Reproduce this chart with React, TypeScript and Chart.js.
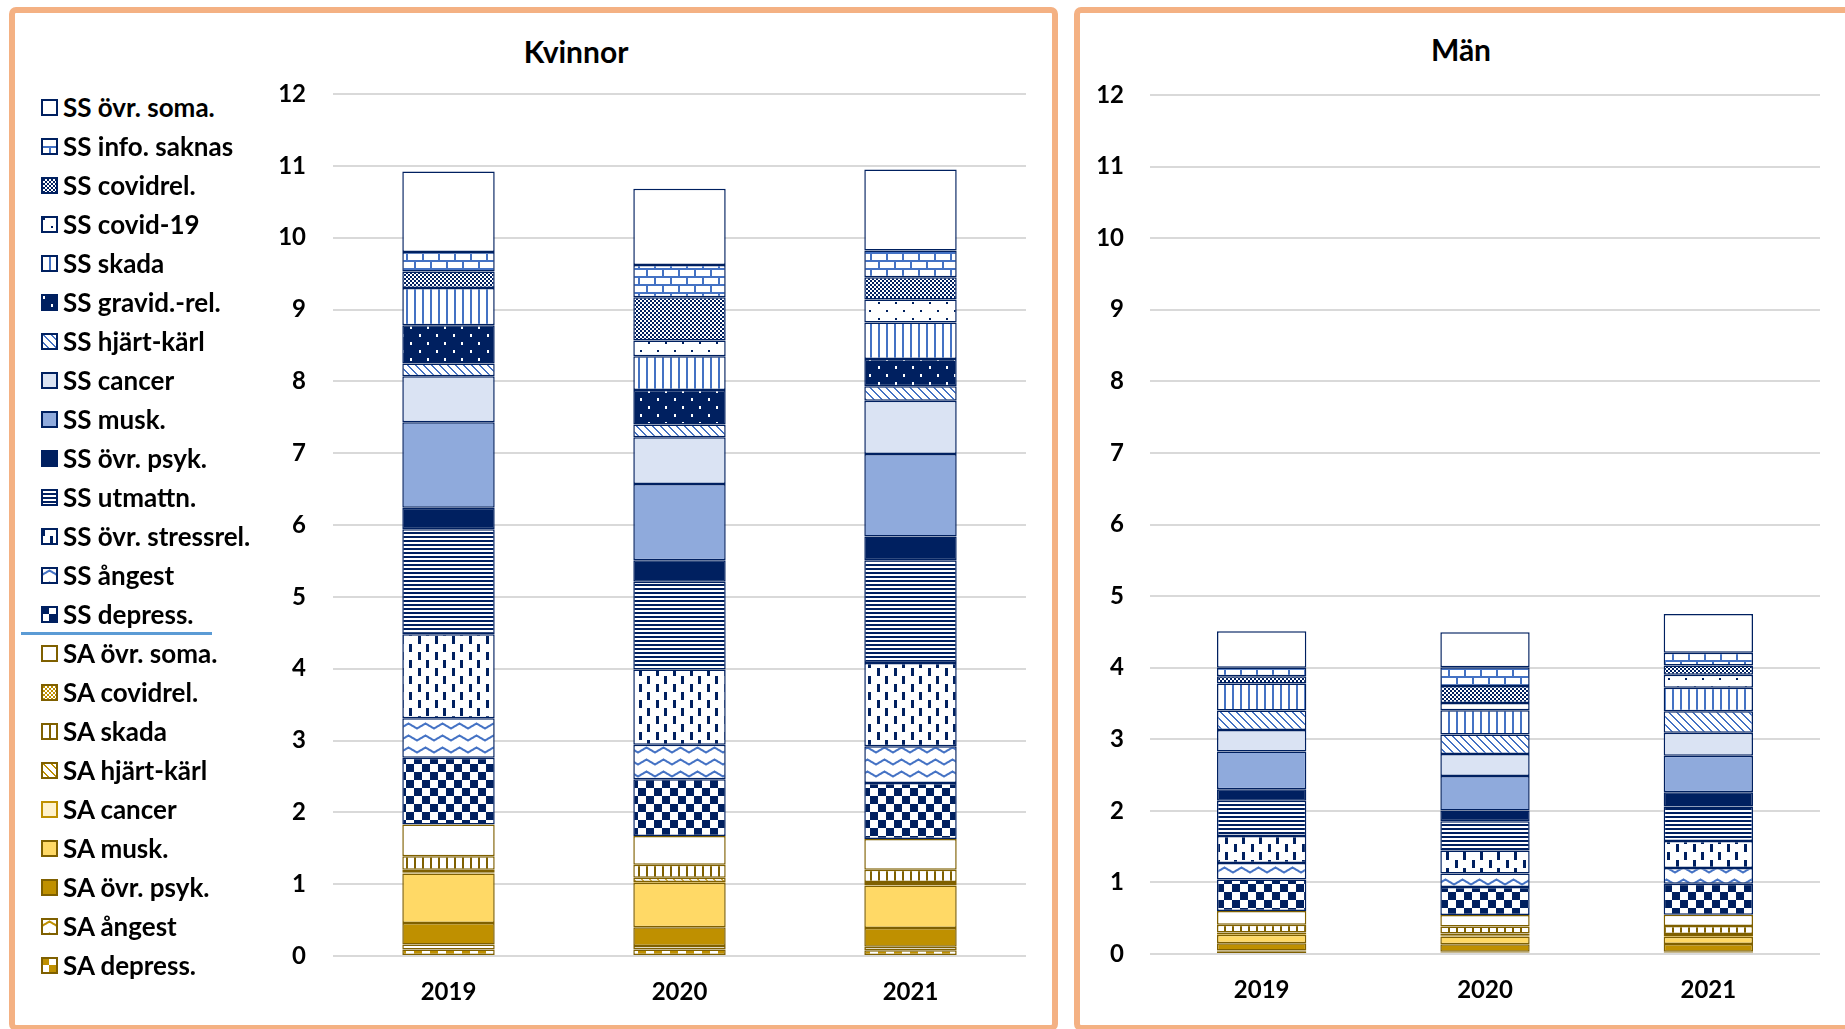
import React, { useEffect, useRef } from 'react';
import { Chart, registerables } from 'chart.js';

Chart.register(...registerables);

// ---------- DATA ----------
const CATEGORIES = ['2019', '2020', '2021'];
const Y_MIN = 0;
const Y_MAX = 12;
const Y_STEP = 1;

// Series in stacking order (bottom -> top)
const SERIES_NAMES = [
  'SA depress.', 'SA ångest', 'SA övr. psyk.', 'SA musk.', 'SA cancer',
  'SA hjärt-kärl', 'SA skada', 'SA covidrel.', 'SA övr. soma.',
  'SS depress.', 'SS ångest', 'SS övr. stressrel.', 'SS utmattn.', 'SS övr. psyk.',
  'SS musk.', 'SS cancer', 'SS hjärt-kärl', 'SS gravid.-rel.', 'SS skada',
  'SS covid-19', 'SS covidrel.', 'SS info. saknas', 'SS övr. soma.',
];

// Kvinnor: one row per series (same order as SERIES_NAMES), values for 2019, 2020, 2021
const KVINNOR_VALUES = [
  [0.09, 0.09, 0.08], // SA depress.
  [0.07, 0.05, 0.05], // SA ångest
  [0.30, 0.26, 0.26], // SA övr. psyk.
  [0.69, 0.62, 0.59], // SA musk.
  [0.01, 0.01, 0.01], // SA cancer
  [0.04, 0.06, 0.04], // SA hjärt-kärl
  [0.19, 0.18, 0.17], // SA skada
  [0.00, 0.00, 0.00], // SA covidrel.
  [0.44, 0.40, 0.43], // SA övr. soma.
  [0.93, 0.79, 0.78], // SS depress.
  [0.55, 0.48, 0.51], // SS ångest
  [1.17, 1.05, 1.16], // SS övr. stressrel.
  [1.46, 1.22, 1.43], // SS utmattn.
  [0.30, 0.30, 0.33], // SS övr. psyk.
  [1.19, 1.06, 1.15], // SS musk.
  [0.64, 0.65, 0.74], // SS cancer
  [0.18, 0.18, 0.20], // SS hjärt-kärl
  [0.53, 0.48, 0.38], // SS gravid.-rel.
  [0.52, 0.47, 0.51], // SS skada
  [0.00, 0.22, 0.32], // SS covid-19
  [0.23, 0.60, 0.31], // SS covidrel.
  [0.27, 0.45, 0.37], // SS info. saknas
  [1.12, 1.06, 1.13], // SS övr. soma.
];

// Män
const MAN_VALUES = [
  [0.03, 0.02, 0.02], // SA depress.
  [0.02, 0.01, 0.01], // SA ångest
  [0.10, 0.105, 0.11], // SA övr. psyk.
  [0.12, 0.11, 0.10], // SA musk.
  [0.01, 0.01, 0.01], // SA cancer
  [0.02, 0.03, 0.03], // SA hjärt-kärl
  [0.11, 0.10, 0.11], // SA skada
  [0.00, 0.00, 0.00], // SA covidrel.
  [0.19, 0.16, 0.16], // SA övr. soma.
  [0.44, 0.39, 0.43], // SS depress.
  [0.23, 0.19, 0.22], // SS ångest
  [0.38, 0.32, 0.38], // SS övr. stressrel.
  [0.49, 0.41, 0.48], // SS utmattn.
  [0.16, 0.15, 0.20], // SS övr. psyk.
  [0.53, 0.48, 0.51], // SS musk.
  [0.30, 0.31, 0.32], // SS cancer
  [0.27, 0.27, 0.30], // SS hjärt-kärl
  [0.00, 0.00, 0.00], // SS gravid.-rel.
  [0.38, 0.34, 0.33], // SS skada
  [0.00, 0.10, 0.18], // SS covid-19
  [0.10, 0.24, 0.13], // SS covidrel.
  [0.12, 0.26, 0.18], // SS info. saknas
  [0.51, 0.49, 0.54], // SS övr. soma.
];

// ---------- STYLES ----------
const NAVY = '#002060';
const BLUE = '#4472C4';
const BROWN = '#7F6000';
const GOLD = '#BF9000';
const WHITE = '#FFFFFF';
const FONT = 'Lato, "Open Sans", sans-serif';

type Kind = 'solid' | 'checker' | 'wave' | 'vdash' | 'hlines' | 'diag' | 'dots' | 'vlines' | 'sparse' | 'fine' | 'brick';
interface Style { kind: Kind; fg: string; border: string; }

const SERIES_STYLE: Style[] = [
  { kind: 'checker', fg: GOLD, border: BROWN },
  { kind: 'wave', fg: GOLD, border: BROWN },
  { kind: 'solid', fg: GOLD, border: BROWN },
  { kind: 'solid', fg: '#FFD966', border: BROWN },
  { kind: 'solid', fg: '#FFF2CC', border: GOLD },
  { kind: 'diag', fg: GOLD, border: BROWN },
  { kind: 'vlines', fg: BROWN, border: BROWN },
  { kind: 'fine', fg: GOLD, border: BROWN },
  { kind: 'solid', fg: WHITE, border: BROWN },
  { kind: 'checker', fg: NAVY, border: NAVY },
  { kind: 'wave', fg: BLUE, border: NAVY },
  { kind: 'vdash', fg: NAVY, border: NAVY },
  { kind: 'hlines', fg: NAVY, border: NAVY },
  { kind: 'solid', fg: NAVY, border: NAVY },
  { kind: 'solid', fg: '#8FAADC', border: NAVY },
  { kind: 'solid', fg: '#DAE3F3', border: NAVY },
  { kind: 'diag', fg: BLUE, border: NAVY },
  { kind: 'dots', fg: NAVY, border: NAVY },
  { kind: 'vlines', fg: BLUE, border: NAVY },
  { kind: 'sparse', fg: NAVY, border: NAVY },
  { kind: 'fine', fg: NAVY, border: NAVY },
  { kind: 'brick', fg: BLUE, border: NAVY },
  { kind: 'solid', fg: WHITE, border: NAVY },
];

function makeTile(st: Style): HTMLCanvasElement {
  const c = document.createElement('canvas');
  let w = 8, h = 8;
  switch (st.kind) {
    case 'checker': w = 16; h = 16; break;
    case 'wave': w = 17; h = 12; break;
    case 'vdash': w = 17; h = 16; break;
    case 'hlines': w = 4; h = 4; break;
    case 'diag': w = 8; h = 8; break;
    case 'dots': w = 17; h = 16; break;
    case 'vlines': w = 8; h = 8; break;
    case 'sparse': w = 17; h = 16; break;
    case 'fine': w = 4; h = 4; break;
    case 'brick': w = 16; h = 16; break;
    default: w = 4; h = 4;
  }
  c.width = w; c.height = h;
  const g = c.getContext('2d')!;
  g.fillStyle = st.kind === 'dots' ? st.fg : WHITE;
  g.fillRect(0, 0, w, h);
  g.fillStyle = st.fg;
  switch (st.kind) {
    case 'solid': g.fillRect(0, 0, w, h); break;
    case 'checker': g.fillRect(0, 0, 8, 8); g.fillRect(8, 8, 8, 8); break;
    case 'wave': {
      g.strokeStyle = st.fg; g.lineWidth = 2; g.beginPath();
      for (let x = -1; x <= w + 1; x += 0.5) {
        const t = ((x % w) + w) % w / w;
        const y = 3.5 + 5 * Math.abs(2 * t - 1);
        if (x === -1) g.moveTo(x, y); else g.lineTo(x, y);
      }
      g.stroke();
      break;
    }
    case 'vdash': g.fillRect(1, 0, 3, 8); g.fillRect(9, 8, 3, 8); break;
    case 'hlines': g.fillRect(0, 0, 4, 2); break;
    case 'diag': for (let i = 0; i < 8; i++) { g.fillRect(i, i, 2, 1); if (i === 7) g.fillRect(0, 7, 1, 1); } break;
    case 'dots': g.fillStyle = WHITE; g.fillRect(2, 2, 2, 3); g.fillRect(10, 10, 2, 3); break;
    case 'vlines': g.fillRect(0, 0, 2, 8); break;
    case 'sparse': g.fillRect(2, 2, 2, 2); g.fillRect(10, 10, 2, 2); break;
    case 'fine': g.fillRect(0, 0, 2, 2); g.fillRect(2, 2, 2, 2); break;
    case 'brick':
      g.fillRect(0, 0, 16, 2); g.fillRect(0, 8, 16, 2);
      g.fillRect(0, 2, 2, 6); g.fillRect(8, 10, 2, 6);
      break;
  }
  return c;
}

function fillFor(ctx: CanvasRenderingContext2D, st: Style): string | CanvasPattern {
  if (st.kind === 'solid') return st.fg;
  return ctx.createPattern(makeTile(st), 'repeat') as CanvasPattern;
}

interface ChartProps {
  values: number[][];
  left: number; top: number; width: number; height: number;
  yAxisWidth: number; xAxisHeight: number; padTop: number; padRight: number;
  yLabelPad: number; xLabelPad: number;
}

function StackedChart(p: ChartProps) {
  const ref = useRef<HTMLCanvasElement>(null);
  useEffect(() => {
    const canvas = ref.current!;
    const ctx = canvas.getContext('2d')!;
    const chart = new Chart(ctx, {
      type: 'bar',
      data: {
        labels: CATEGORIES,
        datasets: SERIES_NAMES.map((name, i) => ({
          label: name,
          data: p.values[i],
          backgroundColor: fillFor(ctx, SERIES_STYLE[i]),
          borderColor: SERIES_STYLE[i].border,
          borderWidth: 1.5,
          borderSkipped: false,
          barPercentage: 0.8,
          categoryPercentage: 0.5,
        })),
      },
      options: {
        responsive: false,
        animation: false,
        devicePixelRatio: 1,
        layout: { padding: { top: p.padTop, right: p.padRight, left: 0, bottom: 0 } },
        plugins: { legend: { display: false }, title: { display: false }, tooltip: { enabled: false } },
        scales: {
          x: {
            stacked: true,
            grid: { display: false, drawTicks: false },
            border: { display: false },
            ticks: { color: '#000', padding: p.xLabelPad, font: { family: FONT, size: 24, weight: 'bold' } },
            afterFit: (s: any) => { s.height = p.xAxisHeight; s.paddingLeft = 0; s.paddingRight = 0; },
          },
          y: {
            stacked: true,
            min: Y_MIN,
            max: Y_MAX,
            ticks: { stepSize: Y_STEP, color: '#000', padding: p.yLabelPad, font: { family: FONT, size: 24, weight: 'bold' } },
            grid: { color: '#D9D9D9', lineWidth: 2, drawTicks: false },
            border: { display: false },
            afterFit: (s: any) => { s.width = p.yAxisWidth; s.paddingTop = 0; s.paddingBottom = 0; },
          },
        },
      } as any,
    });
    return () => chart.destroy();
  }, []);
  return (
    <canvas
      ref={ref}
      width={p.width}
      height={p.height}
      style={{ position: 'absolute', left: p.left, top: p.top, width: p.width, height: p.height }}
    />
  );
}

function Swatch({ st }: { st: Style }) {
  const ref = useRef<HTMLCanvasElement>(null);
  useEffect(() => {
    const c = ref.current!;
    const g = c.getContext('2d')!;
    g.clearRect(0, 0, 17, 17);
    g.fillStyle = fillFor(g, st) as any;
    g.fillRect(0, 0, 17, 17);
    g.strokeStyle = st.border;
    g.lineWidth = 2;
    g.strokeRect(1, 1, 15, 15);
  }, []);
  return <canvas ref={ref} width={17} height={17} style={{ width: 17, height: 17, display: 'block' }} />;
}

function Legend() {
  const items = SERIES_NAMES.map((n, i) => ({ n, i })).reverse();
  return (
    <>
      {items.map((it, k) => (
        <div
          key={it.n}
          style={{
            position: 'absolute', left: 41, top: 107 - 19.5 + k * 39, height: 39,
            display: 'flex', alignItems: 'center', whiteSpace: 'nowrap',
            fontFamily: FONT, fontWeight: 700, fontSize: 26, color: '#000',
          }}
        >
          <Swatch st={SERIES_STYLE[it.i]} />
          <span style={{ marginLeft: 5 }}>{it.n}</span>
        </div>
      ))}
      <div style={{ position: 'absolute', left: 21, top: 632, width: 191, height: 3, background: '#5B9BD5' }} />
    </>
  );
}

export default function App() {
  const panel = (left: number, width: number): React.CSSProperties => ({
    position: 'absolute', left, top: 7, width, height: 1024, boxSizing: 'border-box',
    border: '6px solid #F4B183', borderRadius: 7, pointerEvents: 'none', zIndex: 2,
  });
  const title = (cx: number, cy: number): React.CSSProperties => ({
    position: 'absolute', left: cx - 150, width: 300, top: cy - 18, height: 36, lineHeight: '36px',
    textAlign: 'center', fontFamily: FONT, fontWeight: 700, fontSize: 30, color: '#000',
  });
  return (
    <div style={{ position: 'fixed', left: 0, top: 0, width: 1845, height: 1029, overflow: 'hidden', background: '#fff' }}>
      <Legend />
      <div style={title(576, 51)}>Kvinnor</div>
      <div style={title(1461, 49)}>Män</div>
      <StackedChart
        values={KVINNOR_VALUES}
        left={230} top={60} width={820} height={969}
        yAxisWidth={103} xAxisHeight={73} padTop={34} padRight={24}
        yLabelPad={27} xLabelPad={22}
      />
      <StackedChart
        values={MAN_VALUES}
        left={1080} top={60} width={765} height={969}
        yAxisWidth={70} xAxisHeight={75} padTop={35} padRight={25}
        yLabelPad={26} xLabelPad={22}
      />
      <div style={panel(9, 1049)} />
      <div style={panel(1074, 800)} />
    </div>
  );
}
